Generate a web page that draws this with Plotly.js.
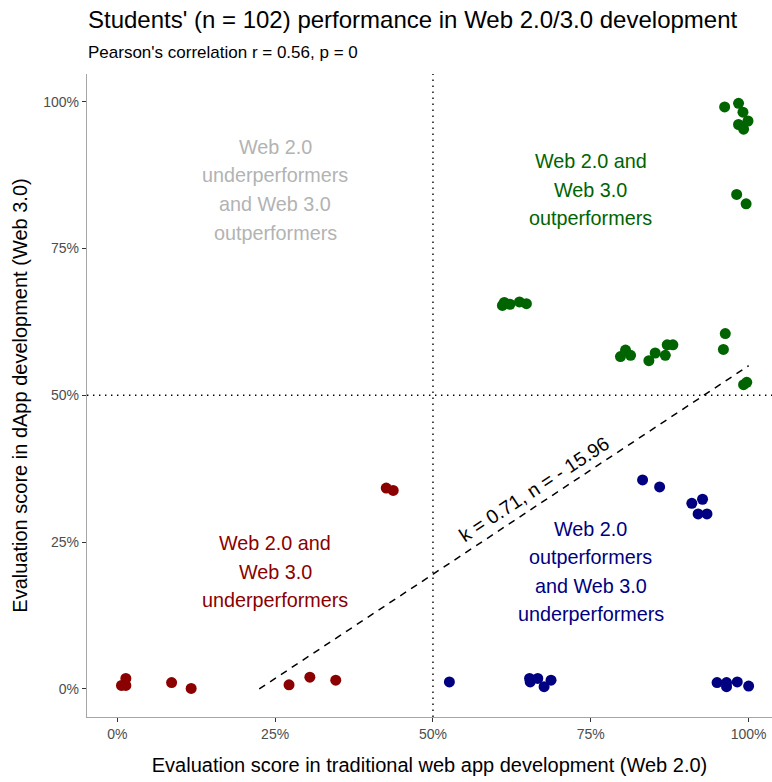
<!DOCTYPE html>
<html>
<head>
<meta charset="utf-8">
<script src="https://cdn.plot.ly/plotly-3.0.1.min.js"></script>
<style>html,body{margin:0;padding:0;background:#fff;}#chart{width:772px;height:782px;}</style>
</head>
<body>
<div id="chart"></div>
<script>
// ---- data (scores as fractions) ----
const lowLowX  = [0.0066, 0.0135, 0.0135, 0.086, 0.117, 0.272, 0.305, 0.346, 0.426, 0.437];
const lowLowY  = [0.006, 0.006, 0.018, 0.011, 0.001, 0.007, 0.020, 0.015, 0.342, 0.338];

const highLowX = [0.526, 0.653, 0.654, 0.666, 0.676, 0.687, 0.950, 0.965, 0.965, 0.982, 1.000, 0.832, 0.859, 0.910, 0.927, 0.920, 0.934];
const highLowY = [0.012, 0.018, 0.012, 0.018, 0.004, 0.015, 0.011, 0.011, 0.004, 0.012, 0.005, 0.356, 0.344, 0.316, 0.323, 0.298, 0.298];

const highHighX = [0.610, 0.613, 0.622, 0.637, 0.648, 0.797, 0.805, 0.813, 0.842, 0.852, 0.868, 0.871, 0.880, 0.963, 0.960, 0.992, 0.997, 0.962, 0.984, 0.991, 0.999, 0.984, 0.992, 0.981, 0.996];
const highHighY = [0.653, 0.658, 0.655, 0.659, 0.656, 0.566, 0.577, 0.568, 0.559, 0.572, 0.568, 0.586, 0.586, 0.605, 0.578, 0.518, 0.522, 0.991, 0.997, 0.982, 0.967, 0.961, 0.953, 0.842, 0.826];

const fitK = 0.71, fitN = -15.96;           // y% = k * x% + n
const fitXRange = [0.2248, 1.0];
const threshold = 0.5;

const tickVals = [0, 0.25, 0.5, 0.75, 1];

const titleText = "Students' (n = 102) performance in Web 2.0/3.0 development";
const subtitleText = "Pearson's correlation r = 0.56, p = 0";
const xTitle = "Evaluation score in traditional web app development (Web 2.0)";
const yTitle = "Evaluation score in dApp development (Web 3.0)";
const fitLabel = "k = 0.71, n = - 15.96";

const quadLabels = [
  {lines: ["Web 2.0", "underperformers", "and Web 3.0", "outperformers"], x: 0.25, y: 0.85, color: "#b3b3b3"},
  {lines: ["Web 2.0 and", "Web 3.0", "outperformers"], x: 0.75, y: 0.85, color: "#006400"},
  {lines: ["Web 2.0 and", "Web 3.0", "underperformers"], x: 0.25, y: 0.20, color: "#8B0000"},
  {lines: ["Web 2.0", "outperformers", "and Web 3.0", "underperformers"], x: 0.75, y: 0.20, color: "#000080"}
];

// ---- chart ----
const FONT = "Liberation Sans, Arial, Helvetica, sans-serif";
const xRange = [-0.048, 1.037];
const yRange = [-0.0477, 1.047];

const fitY = fitXRange.map(x => (fitK * x * 100 + fitN) / 100);

const traces = [
  {x: [threshold, threshold], y: yRange, mode: "lines", line: {color: "#000", width: 1.4, dash: "1.4px,4.6px"}, hoverinfo: "skip"},
  {x: xRange, y: [threshold, threshold], mode: "lines", line: {color: "#000", width: 1.4, dash: "1.4px,4.6px"}, hoverinfo: "skip"},
  {x: lowLowX, y: lowLowY, mode: "markers", marker: {color: "#8B0000", size: 11}},
  {x: highLowX, y: highLowY, mode: "markers", marker: {color: "#000080", size: 11}},
  {x: highHighX, y: highHighY, mode: "markers", marker: {color: "#006400", size: 11}},
  {x: fitXRange, y: fitY, mode: "lines", line: {color: "#000", width: 1.5, dash: "7px,6px"}, hoverinfo: "skip"}
];

const annotations = [];
const lineGap = 28.6;
quadLabels.forEach(q => {
  const mid = (q.lines.length - 1) / 2;
  q.lines.forEach((t, i) => {
    annotations.push({x: q.x, y: q.y, xref: "x", yref: "y", text: t, showarrow: false,
      xanchor: "center", yanchor: "middle", yshift: (mid - i) * lineGap,
      font: {family: FONT, size: 19.8, color: q.color}});
  });
});
annotations.push({x: 0.6626, y: 0.3356, xref: "x", yref: "y", text: fitLabel, showarrow: false,
  textangle: -33.2, xshift: -1.5, yshift: 2.5, font: {family: FONT, size: 19.5, color: "#000"}});
annotations.push({x: -0.0015, y: 1.085, xref: "paper", yref: "paper", text: titleText, showarrow: false,
  xanchor: "left", yanchor: "middle", font: {family: FONT, size: 24, color: "#000"}});
annotations.push({x: -0.0015, y: 1.034, xref: "paper", yref: "paper", text: subtitleText, showarrow: false,
  xanchor: "left", yanchor: "middle", font: {family: FONT, size: 17, color: "#000"}});

const axisCommon = {
  showgrid: false, zeroline: false, showline: true, linecolor: "#a6a6a6", linewidth: 1.2,
  ticks: "outside", ticklen: 4, tickcolor: "#333", tickwidth: 1,
  tickvals: tickVals, tickformat: ".0%",
  tickfont: {family: FONT, size: 14, color: "#4d4d4d"}
};

const layout = {
  width: 772, height: 782,
  margin: {l: 87, r: 0, t: 74, b: 65},
  paper_bgcolor: "#fff", plot_bgcolor: "#fff",
  showlegend: false, hovermode: false,
  xaxis: Object.assign({}, axisCommon, {range: xRange,
    title: {text: xTitle, font: {family: FONT, size: 20, color: "#000"}, standoff: 17}}),
  yaxis: Object.assign({}, axisCommon, {range: yRange,
    title: {text: yTitle, font: {family: FONT, size: 20, color: "#000"}, standoff: 10}}),
  annotations: annotations
};

Plotly.newPlot("chart", traces, layout, {displayModeBar: false, staticPlot: true});
</script>
</body>
</html>
